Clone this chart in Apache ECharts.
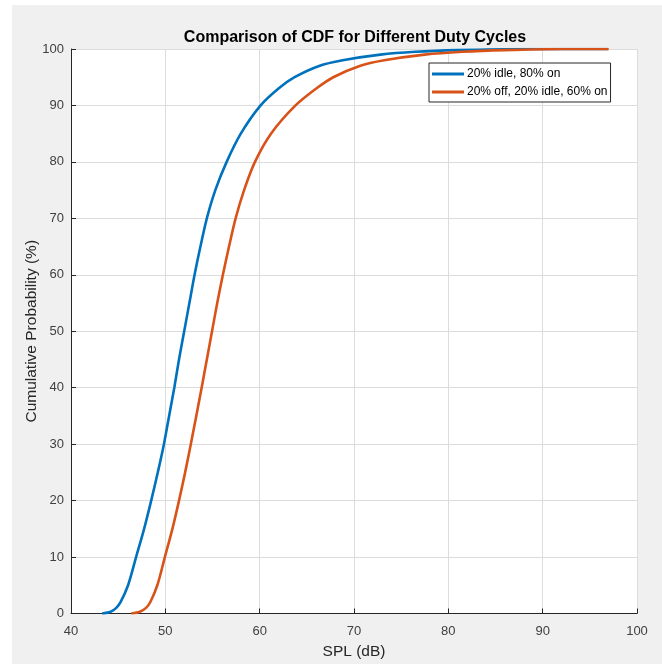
<!DOCTYPE html>
<html>
<head>
<meta charset="utf-8">
<script src="https://cdn.jsdelivr.net/npm/echarts@6/dist/echarts.min.js"></script>
<style>
  html, body { margin: 0; padding: 0; background: #ffffff; width: 662px; height: 664px; overflow: hidden; }
  #chart { position: absolute; left: 12px; top: 5px; width: 650px; height: 659px; background: #f0f0f0; }
</style>
</head>
<body>
<div id="chart"></div>
<script>
// ---- Data ----
const seriesNames = ['20% idle, 80% on', '20% off, 20% idle, 60% on'];

const splBlue = [43.3, 44.2, 44.8, 45.25, 46.05, 46.9, 47.75, 48.5, 49.2, 49.85, 50.4, 50.95, 51.45, 52.0, 52.55, 53.1, 53.72, 54.4, 55.3, 56.5, 58.0, 60.1, 62.0, 63.7, 66.3, 68.8, 72.8, 76.5, 81.0, 88.0, 96.9];
const cdfBlue = [0, 0.3, 1, 2, 5, 10, 15, 20, 25, 30, 35, 40, 45, 50, 55, 60, 65, 70, 75, 80, 85, 90, 93, 95, 97, 98, 99, 99.5, 99.8, 100, 100];

const splOrange = [46.4, 47.3, 47.95, 48.4, 49.15, 49.95, 50.75, 51.45, 52.1, 52.7, 53.28, 53.85, 54.4, 54.95, 55.5, 56.1, 56.75, 57.45, 58.35, 59.5, 61.2, 63.8, 66.0, 67.8, 70.6, 73.2, 77.5, 81.5, 86.0, 92.0, 97.0];
const cdfOrange = [0, 0.3, 1, 2, 5, 10, 15, 20, 25, 30, 35, 40, 45, 50, 55, 60, 65, 70, 75, 80, 85, 90, 93, 95, 97, 98, 99, 99.5, 99.8, 100, 100];

const xTicks = [40, 50, 60, 70, 80, 90, 100];
const yTicks = [0, 10, 20, 30, 40, 50, 60, 70, 80, 90, 100];

// ---- Build ----
const pairs = (xs, ys) => xs.map((x, i) => [x, ys[i]]);
const FONT = 'Liberation Sans, Arial, Helvetica, sans-serif';
const chart = echarts.init(document.getElementById('chart'), null, { renderer: 'canvas' });

chart.setOption({
  animation: false,
  backgroundColor: '#f0f0f0',
  textStyle: { fontFamily: FONT },
  title: {
    text: 'Comparison of CDF for Different Duty Cycles',
    left: 338,
    textAlign: 'center',
    top: 20,
    textStyle: { fontFamily: FONT, fontSize: 16, fontWeight: 'bold', color: '#000000' }
  },
  legend: {
    orient: 'vertical',
    left: 417,
    top: 58,
    icon: 'rect',
    itemWidth: 32,
    itemHeight: 3,
    itemGap: 6,
    padding: [5, 3, 4, 3],
    borderColor: '#262626',
    borderWidth: 1,
    backgroundColor: '#ffffff',
    borderRadius: 0,
    textStyle: { fontFamily: FONT, fontSize: 12, color: '#000000', padding: [0, 0, 0, -2] },
    data: seriesNames
  },
  grid: { left: 59, top: 44, right: 25, bottom: 50.5, containLabel: false, outerBoundsMode: 'none', show: true, backgroundColor: '#ffffff', borderWidth: 0 },
  xAxis: {
    type: 'value',
    min: xTicks[0],
    max: xTicks[xTicks.length - 1],
    interval: 10,
    name: 'SPL (dB)',
    nameLocation: 'middle',
    nameGap: 30,
    nameMoveOverlap: false,
    nameTextStyle: { fontFamily: FONT, fontSize: 15.5, color: '#262626' },
    axisLine: { show: true, lineStyle: { color: '#262626', width: 1 } },
    axisTick: { show: true, inside: true, length: 5, lineStyle: { color: '#262626' } },
    axisLabel: { fontFamily: FONT, fontSize: 13, color: '#404040', margin: 11 },
    splitLine: { show: true, lineStyle: { color: '#dcdcdc', width: 1 } }
  },
  yAxis: {
    type: 'value',
    min: yTicks[0],
    max: yTicks[yTicks.length - 1],
    interval: 10,
    name: 'Cumulative Probability (%)',
    nameLocation: 'middle',
    nameGap: 31,
    nameMoveOverlap: false,
    nameTextStyle: { fontFamily: FONT, fontSize: 15.5, color: '#262626' },
    axisLine: { show: true, lineStyle: { color: '#262626', width: 1 } },
    axisTick: { show: true, inside: true, length: 5, lineStyle: { color: '#262626' } },
    axisLabel: { fontFamily: FONT, fontSize: 13, color: '#404040', margin: 7 },
    splitLine: { show: true, lineStyle: { color: '#dcdcdc', width: 1 } }
  },
  series: [
    {
      name: seriesNames[0],
      type: 'line',
      data: pairs(splBlue, cdfBlue),
      showSymbol: false,
      symbol: 'none',
      smooth: 0.3,
      lineStyle: { color: '#0072BD', width: 2.6 },
      itemStyle: { color: '#0072BD' },
      z: 2
    },
    {
      name: seriesNames[1],
      type: 'line',
      data: pairs(splOrange, cdfOrange),
      showSymbol: false,
      symbol: 'none',
      smooth: 0.3,
      lineStyle: { color: '#D95319', width: 2.6 },
      itemStyle: { color: '#D95319' },
      z: 3
    }
  ]
});
</script>
</body>
</html>
